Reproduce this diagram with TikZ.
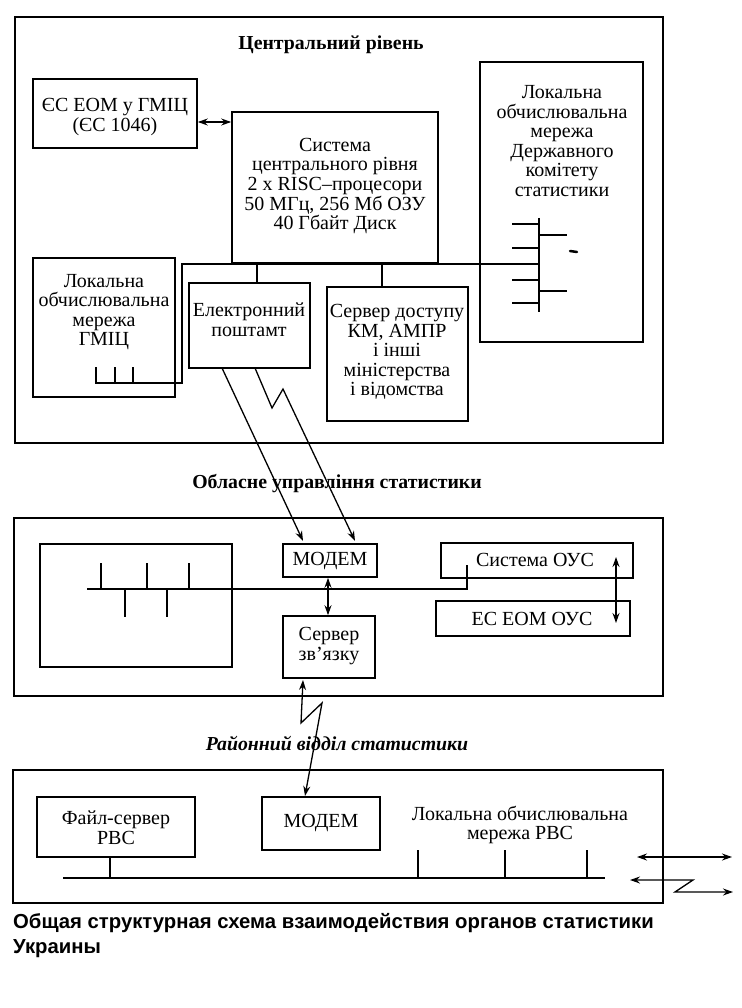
\documentclass[tikz,border=0pt]{standalone}
\usepackage{fontspec}
\setmainfont{Liberation Serif}
\newfontfamily\capfont{Liberation Sans}
\usetikzlibrary{arrows.meta,fit}
\tikzset{
  box/.style={draw, line width=1.6pt, inner sep=0pt, fit={#1}},
  outerbox/.style={draw, line width=1.8pt, inner sep=0pt, fit={#1}},
  txt/.style={align=center, inner sep=0pt, font=\fontsize{20}{19.6}\selectfont},
  ttl/.style={inner sep=0pt, font=\fontsize{19.8}{20}\selectfont\bfseries},
  wire/.style={line width=1.5pt},
  tip/.style={line width=1.3pt, -{Stealth[length=10pt,width=7pt]}},
  dbl/.style={line width=1.3pt, {Stealth[length=10pt,width=7pt]}-{Stealth[length=10pt,width=7pt]}}
}
\begin{document}
\begin{tikzpicture}[x=1pt,y=-1pt]
\useasboundingbox (0,0) rectangle (741,1008);
\fill[white] (0,0) rectangle (741,1008);

% ---------- central level ----------
\node[outerbox={(15,17)(663,443)}] (c1) {};
\node[ttl] (t1) at (331,45) {Центральний рівень};

\node[box={(33,79)(197,148)}] (eseom) {};
\node[txt] (teseom) at (115,117) {ЄС ЕОМ у ГМІЦ\\(ЄС 1046)};

\node[box={(232,112)(438,263)}] (sys) {};
\node[txt] (tsys) at (335,186) {Система\\центрального рівня\\2 x RISC--процесори\\50 МГц, 256 Мб ОЗУ\\40 Гбайт Диск};

\node[box={(480,62)(643,342)}] (dks) {};
\node[txt] (tdks) at (562,141) {Локальна\\обчислювальна\\мережа\\Державного\\комітету\\статистики};

\node[box={(33,258)(175,397)}] (gmic) {};
\node[txt] (tgmic) at (104,312) {Локальна\\обчислювальна\\мережа\\ГМІЦ};

\node[box={(189,283)(310,368)}] (post) {};
\node[txt] (tpost) at (249,320) {Електронний\\поштамт};

\node[box={(327,287)(468,421)}] (srv) {};
\node[txt] (tsrv) at (397,352) {Сервер доступу\\КМ, АМПР\\і інші\\міністерства\\і відомства};

\coordinate (ya) at (0,122);
\draw[dbl] (eseom.east |- ya) -- (sys.west |- ya);

% bus of the central level
\coordinate (g1) at (96,367);
\coordinate (g2) at (115,367);
\coordinate (g3) at (133,367);
\coordinate (gb) at (96,383);
\coordinate (gc) at (182,383);
\coordinate (gd) at (182,264);
\coordinate (b1) at (257,264);
\coordinate (b2) at (382,264);
\coordinate (be) at (539,264);
\draw[wire] (g1) -- (gb) -- (gc) -- (gd) -- (be);
\draw[wire] (g2) -- (g2 |- gb);
\draw[wire] (g3) -- (g3 |- gb);
\draw[wire] (b1) -- (b1 |- post.north);
\draw[wire] (b2) -- (b2 |- srv.north);

% LAN of the State committee
\coordinate (d0) at (539,218);
\coordinate (d1) at (539,312);
\draw[wire] (d0) -- (d1);
\foreach \yy in {224,248,280,303} \draw[wire] (512,\yy) -- (539,\yy);
\foreach \yy in {235,291} \draw[wire] (539,\yy) -- (567,\yy);
\draw[line width=2.5pt, line cap=round] (570,251) -- (577,252);

% ---------- regional level ----------
\node[ttl] (t2) at (337,484) {Обласне управління статистики};
\node[outerbox={(14,518)(663,696)}] (c2) {};

\node[box={(40,544)(232,667)}] (lanbox) {};
\node[box={(283,544)(377,577)}] (modem1) {};
\node[txt] (tmodem1) at (330,561) {МОДЕМ};
\node[box={(283,616)(375,678)}] (svz) {};
\node[txt] (tsvz) at (329,646) {Сервер\\зв'язку};
\node[box={(441,543)(633,578)}] (ous) {};
\node[txt] (tous) at (535,560) {Система ОУС};
\node[box={(436,601)(630,636)}] (eous) {};
\node[txt] (teous) at (532,619) {ЕС ЕОМ ОУС};

% zig-zag links from the e-mail office
\coordinate (p1) at (222,368);
\coordinate (p2) at (255,368);
\coordinate (m1) at (303,541);
\coordinate (m2) at (355,541);
\draw[tip] (p1) -- (m1);
\draw[tip] (p2) -- (272,408) -- (283,389) -- (m2);

\coordinate (xm) at (328,0);
\draw[dbl] (modem1.south -| xm) -- (svz.north -| xm);

\coordinate (xo) at (616,0);
\draw[dbl] (xo |- 0,557) -- (xo |- 0,623);

% bus of the regional level
\coordinate (r0) at (87,589);
\coordinate (r1) at (467,589);
\coordinate (r2) at (467,565);
\draw[wire] (r0) -- (r1) -- (r2);
\foreach \xx in {101,147,189} \draw[wire] (\xx,563) -- (\xx,589);
\foreach \xx in {125,167} \draw[wire] (\xx,589) -- (\xx,617);

% ---------- district level ----------
\node[ttl, font=\fontsize{19.8}{20}\selectfont\bfseries\itshape] (t3) at (337,743) {Районний відділ статистики};
\node[outerbox={(13,770)(663,903)}] (c3) {};

\node[box={(37,797)(195,857)}] (fs) {};
\node[txt] (tfs) at (116,828) {Файл-сервер\\РВС};
\node[box={(262,797)(380,850)}] (modem2) {};
\node[txt] (tmodem2) at (321,823) {МОДЕМ};
\node[txt] (tlan3) at (520,825) {Локальна обчислювальна\\мережа РВС};

\coordinate (s1) at (303,680);
\coordinate (s2) at (305,796);
\draw[dbl] (s1) -- (301,723) -- (322,703) -- (s2);

\coordinate (l0) at (63,878);
\coordinate (l1) at (605,878);
\draw[wire] (l0) -- (l1);
\coordinate (fx) at (110,878);
\draw[wire] (fs.south -| fx) -- (fx);
\foreach \xx in {418,505,587} \draw[wire] (\xx,850) -- (\xx,878);

% legend arrows
\coordinate (a1) at (637,857);
\coordinate (a2) at (732,857);
\draw[dbl] (a1) -- (a2);
\coordinate (a3) at (630,880);
\coordinate (a4) at (733,892);
\draw[dbl] (a3) -- (693,880) -- (675,892) -- (a4);

% caption
\node[anchor=north west, align=left, inner sep=0pt, font=\capfont\bfseries\fontsize{20.3}{25}\selectfont] (cap) at (13,913)
  {Общая структурная схема взаимодействия органов статистики\\Украины};
\end{tikzpicture}
\end{document}
